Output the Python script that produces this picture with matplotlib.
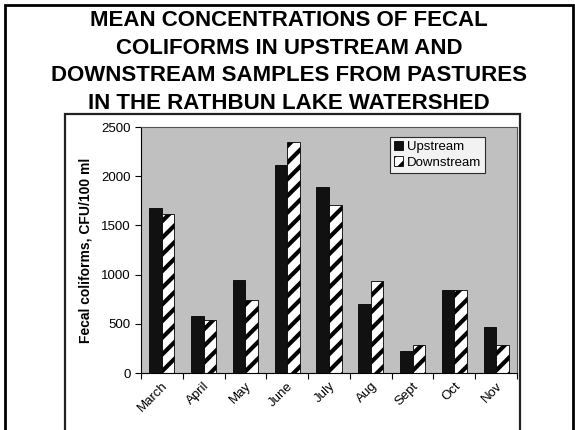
import numpy as np
import matplotlib
matplotlib.use("Agg")
import matplotlib.pyplot as plt
from matplotlib.patches import Rectangle

plt.rcParams['font.family'] = ['Liberation Sans', 'DejaVu Sans']
plt.rcParams['hatch.linewidth'] = 3.0

# data
months = ["March", "April", "May", "June", "July", "Aug", "Sept", "Oct", "Nov"]
upstream = [1672, 584, 943, 2111, 1892, 699, 223, 848, 463]
downstream = [1611, 537, 743, 2345, 1706, 936, 280, 841, 284]
yticks = [0, 500, 1000, 1500, 2000, 2500]

title = ("MEAN CONCENTRATIONS OF FECAL\nCOLIFORMS IN UPSTREAM AND\n"
         "DOWNSTREAM SAMPLES FROM PASTURES\nIN THE RATHBUN LAKE WATERSHED")

fig = plt.figure(figsize=(5.75, 4.3), dpi=100)
W, H = 575.0, 430.0

# outer slide border and inner chart box (both run off the bottom)
fig.patches.append(Rectangle((5 / W, -0.05), 568 / W, 1.05 - 5 / H,
                             transform=fig.transFigure, fill=False,
                             edgecolor="black", linewidth=2.0))
fig.patches.append(Rectangle((65 / W, -0.05), 455 / W, 1.05 - 114 / H,
                             transform=fig.transFigure, fill=False,
                             edgecolor="#222222", linewidth=1.6))

fig.text(289 / W, 1 - 62 / H, title, ha="center", va="center",
         fontsize=16, fontweight="bold", linespacing=1.42)

ax = fig.add_axes([141 / W, 1 - 373 / H, 376 / W, 246 / H])
ax.set_facecolor("#c0c0c0")

x = np.arange(len(months))
w = 0.3
ax.bar(x - w / 2, upstream, w, color="#111111", edgecolor="black",
       linewidth=0.6, label="Upstream")
ax.bar(x + w / 2, downstream, w, color="white", edgecolor="black",
       linewidth=0.6, hatch="//", label="Downstream")

ax.set_xlim(-0.5, len(months) - 0.5)
ax.set_ylim(0, 2500)
ax.set_yticks(yticks)
ax.set_yticklabels([str(v) for v in yticks], fontsize=9.5)

# ticks between categories, labels centred under the groups
ax.set_xticks(np.arange(len(months) + 1) - 0.5)
ax.set_xticklabels([])
ax.tick_params(axis="x", which="major", length=4, direction="out")
ax.set_xticks(x, minor=True)
ax.set_xticklabels(months, minor=True, rotation=45, ha="right",
                   rotation_mode="anchor", fontsize=9.5)
ax.tick_params(axis="x", which="minor", length=0, pad=5)
ax.tick_params(axis="y", length=4, direction="out")

for side in ["top", "right"]:
    ax.spines[side].set_color("#555555")
    ax.spines[side].set_linewidth(0.8)
for side in ["left", "bottom"]:
    ax.spines[side].set_color("black")
    ax.spines[side].set_linewidth(0.8)

ax.set_ylabel("Fecal coliforms, CFU/100 ml", fontsize=10,
              fontweight="bold", labelpad=6)

leg = ax.legend(loc="upper right", bbox_to_anchor=(0.915, 0.96),
                fontsize=9.5, frameon=True, fancybox=False,
                handlelength=0.7, handleheight=0.7, handletextpad=0.3,
                borderpad=0.3, labelspacing=0.25, borderaxespad=0)
leg.get_frame().set_edgecolor("black")
leg.get_frame().set_linewidth(0.8)

fig.savefig("out.png", dpi=100)
